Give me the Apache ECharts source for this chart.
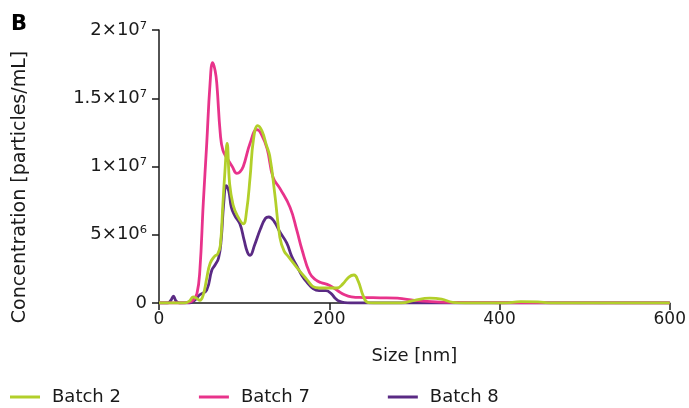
<!DOCTYPE html>
<html>
<head>
<meta charset="utf-8">
<script src="https://cdn.jsdelivr.net/npm/echarts@6/dist/echarts.min.js"></script>
<style>
  html, body { margin: 0; padding: 0; background: #fff; }
  #chart { width: 689px; height: 408px; }
</style>
</head>
<body>
<div id="chart"></div>
<script>
// concentration values in units of 1e6 particles/mL, size in nm
const batch2 = [
  [0, 0], [30, 0], [36, 0.15], [40, 0.45], [44, 0.35], [48, 0.2], [52, 0.6], [56, 1.8],
  [60, 2.9], [65, 3.4], [69, 3.6], [72, 4.2], [75, 7.2], [77.5, 9.7], [80, 11.7],
  [83, 8.7], [87, 7.2], [92, 6.4], [99, 5.8], [103, 6.8], [107, 9.2], [111, 12.0],
  [116, 13.0], [121, 12.6], [126, 11.6], [130, 10.8], [136, 8.0], [142, 4.8],
  [147, 3.8], [152, 3.4], [162, 2.6], [174, 1.7], [181, 1.2], [188, 1.1], [200, 1.1],
  [209, 1.1], [216, 1.4], [223, 1.9], [229, 2.05], [234, 1.6], [240, 0.5], [245, 0.05],
  [252, 0], [285, 0], [300, 0.2], [318, 0.35], [332, 0.28], [345, 0.05], [360, 0],
  [405, 0], [425, 0.1], [445, 0.08], [460, 0], [600, 0]
];
const batch7 = [
  [0, 0], [25, 0], [35, 0.05], [40, 0.2], [44.6, 0.7], [48, 2.4], [52, 7.3], [56, 11.6],
  [60, 16.1], [63, 17.6], [66, 17.0], [68, 16.0], [72, 12.4], [75, 11.2], [80, 10.6],
  [86, 10.0], [91.5, 9.5], [95, 9.6], [99, 10.0], [107, 11.7], [115, 12.7], [120, 12.4],
  [127, 11.3], [134, 9.2], [142, 8.4], [154, 7.0], [162, 5.3], [168, 3.9], [177, 2.2],
  [184, 1.7], [190, 1.5], [200, 1.3], [210, 0.9], [218, 0.6], [226, 0.45], [240, 0.4],
  [260, 0.38], [280, 0.35], [300, 0.2], [320, 0.1], [340, 0.05], [400, 0.02], [600, 0]
];
const batch8 = [
  [0, 0], [10, 0], [14, 0.2], [17, 0.5], [20, 0.15], [24, 0], [36, 0], [42, 0.2],
  [48, 0.6], [56, 0.95], [62, 2.4], [66, 2.8], [70, 3.3], [73, 4.6], [76, 7.3], [79, 8.6],
  [82, 8.2], [85, 7.0], [89, 6.4], [95, 5.8], [100, 4.6], [104, 3.7], [107, 3.5],
  [112, 4.2], [119, 5.4], [125, 6.2], [129, 6.3], [135, 6.0], [142, 5.2], [150, 4.4],
  [156, 3.4], [162, 2.7], [168, 2.0], [174, 1.5], [181, 1.05], [188, 0.9], [196, 0.9],
  [202, 0.7], [207, 0.35], [212, 0.12], [218, 0.02], [225, 0], [600, 0]
];
const seriesNames = ['Batch 2', 'Batch 7', 'Batch 8'];
const seriesColors = ['#b2cf2a', '#e8338b', '#5a2a84'];
const yTickLabels = ['0', '5×10⁶', '1×10⁷', '1.5×10⁷', '2×10⁷'];
const xTicks = [0, 200, 400, 600];

const font = 'DejaVu Sans, Verdana, sans-serif';
const ink = '#1a1a1a';
const chart = echarts.init(document.getElementById('chart'));

chart.setOption({
  animation: false,
  textStyle: { fontFamily: font },
  graphic: [
    {
      type: 'text', left: 11, top: 14,
      style: { text: 'B', font: 'bold 21px ' + font, fill: '#000' }
    },
    {
      // y axis title sits a bit below the middle of the axis in the original
      type: 'text', x: 20, y: 187, rotation: Math.PI / 2,
      style: {
        text: 'Concentration [particles/mL]', font: '19px ' + font, fill: ink,
        align: 'center', verticalAlign: 'middle'
      }
    }
  ],
  grid: { left: 159, right: 19, top: 30, bottom: 105 },
  legend: {
    left: 10, top: 388, padding: 0,
    icon: 'rect', itemWidth: 30, itemHeight: 3, itemGap: 78,
    textStyle: { fontSize: 18, color: ink, fontFamily: font, padding: [0, 0, 0, 7] },
    data: seriesNames
  },
  xAxis: {
    type: 'value', min: 0, max: 600, interval: 200,
    name: 'Size [nm]', nameLocation: 'middle', nameGap: 44,
    nameTextStyle: { fontSize: 18, color: ink },
    axisLine: { lineStyle: { color: ink, width: 1.5 } },
    axisTick: { show: true, length: 7, lineStyle: { color: ink, width: 1.5 } },
    axisLabel: { fontSize: 17, color: ink, margin: 8,
      formatter: v => xTicks.includes(v) ? String(v) : '' },
    splitLine: { show: false }
  },
  yAxis: {
    type: 'value', min: 0, max: 20, interval: 5,
    axisLine: { show: true, lineStyle: { color: ink, width: 1.5 } },
    axisTick: { show: true, length: 7, lineStyle: { color: ink, width: 1.5 } },
    axisLabel: { fontSize: 18, color: ink, margin: 12,
      formatter: v => yTickLabels[Math.round(v / 5)] },
    splitLine: { show: false }
  },
  series: [batch2, batch7, batch8].map((d, i) => ({
    name: seriesNames[i],
    type: 'line',
    data: d,
    smooth: 0.45,
    showSymbol: false,
    color: seriesColors[i],
    lineStyle: { width: 2.8, color: seriesColors[i] },
    z: 3 - i
  }))
});
</script>
</body>
</html>
